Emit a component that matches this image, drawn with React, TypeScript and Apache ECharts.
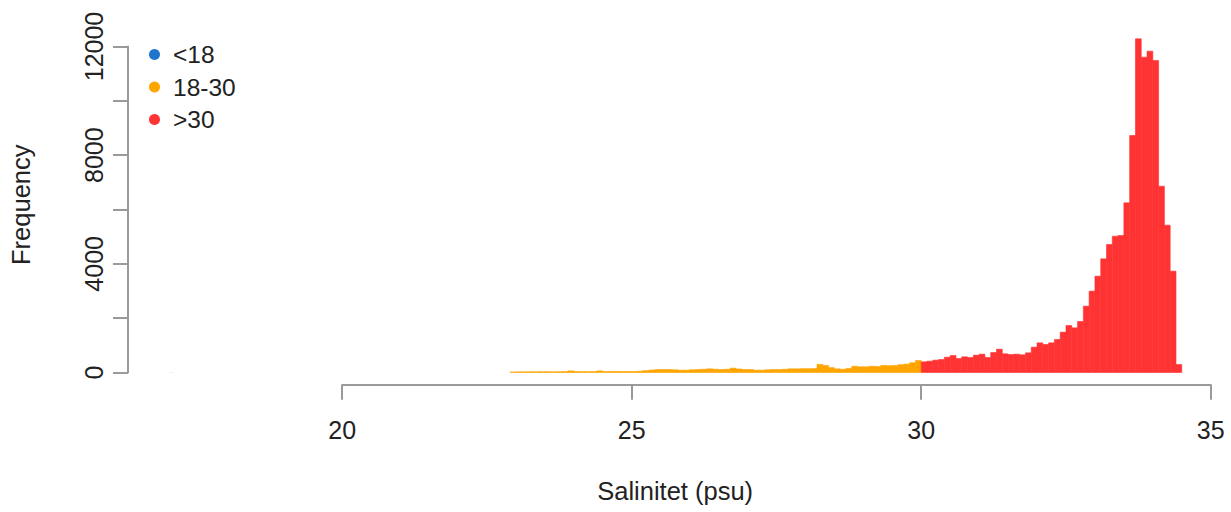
import React, { useEffect, useRef } from "react";
import * as echarts from "echarts";

// ---- data (histogram bins of width 0.1 psu) ----
const BIN_WIDTH = 0.1;

const blueStart = 17.0;
const blueCounts = [3];

const orangeStart = 22.9;
const orangeCounts = [
  20, 25, 25, 30, 25, 30, 30, 25, 30, 35, 60, 35, 30, 30, 35, 60, 35, 40, 40, 35, 35,
  37, 50, 70, 90, 110, 110, 110, 100, 86, 86, 100, 110, 120, 135, 120, 110, 120, 160, 130, 110,
  110, 86, 86, 100, 110, 110, 120, 135, 135, 140, 140, 145, 300, 260, 180, 135, 120, 150, 230, 210,
  210, 230, 220, 260, 250, 260, 290, 310, 360, 440,
];

const redStart = 30.0;
const redCounts = [
  393, 417, 454, 478, 564, 626, 515, 577, 552, 638, 675, 552, 736, 859, 687,
  662, 675, 650, 724, 932, 1092, 1031, 1092, 1215, 1485, 1730, 1644, 1877, 2442, 2994,
  3546, 4184, 4712, 5018, 5043, 6245, 8724, 12282, 11607, 11828, 11485, 6859, 5423, 3730, 294,
];

const seriesNames = ["<18", "18-30", ">30"];
const xTickMin = 20;
const xTickMax = 35;
const xTickStep = 5;
const yTickMax = 12000;
const yTickStep = 2000;
const yLabelValues = [0, 4000, 8000, 12000];

const BLUE = "#1f74cc";
const ORANGE = "#ffa500";
const RED = "#ff3333";
const AXIS = "#9a9a9a";
const TEXT = "#222222";
const FONT = '"Liberation Sans", Arial, Helvetica, sans-serif';

function toBins(start: number, counts: number[]) {
  return counts.map((c, i) => {
    const x0 = Math.round(start * 10 + i) / 10;
    const x1 = Math.round(start * 10 + i + BIN_WIDTH * 10) / 10;
    return [x0, x1, c];
  });
}

// ---- layout ----
const PX_PER_PSU = 57.9;
const X_MIN = 16.3;
const X_MAX = 35.2;
const Y_MIN = -450;
const Y_MAX = 12800;
const Y0_PX = 372.5;
const Y12K_PX = 46.5;
const PX_PER_UNIT = (Y0_PX - Y12K_PX) / 12000;
const GRID_LEFT = 128;

export default function App() {
  const ref = useRef<HTMLDivElement>(null);

  useEffect(() => {
    if (!ref.current) return;
    const chart = echarts.init(ref.current, undefined, { renderer: "svg" });

    const dataTop = Y12K_PX - (Y_MAX - 12000) * PX_PER_UNIT;
    const dataBottom = Y0_PX - Y_MIN * PX_PER_UNIT;
    const dataWidth = (X_MAX - X_MIN) * PX_PER_PSU;
    const xAxisLeft = GRID_LEFT + (xTickMin - X_MIN) * PX_PER_PSU;
    const xAxisWidth = (xTickMax - xTickMin) * PX_PER_PSU;

    const makeRenderItem = (strokeWidth: number) => (params: any, api: any) => {
      const x0 = api.value(0);
      const x1 = api.value(1);
      const y = api.value(2);
      const p0 = api.coord([x0, y]);
      const p1 = api.coord([x1, 0]);
      const color = api.visual("color");
      return {
        type: "rect",
        shape: { x: p0[0], y: p0[1], width: p1[0] - p0[0], height: p1[1] - p0[1] },
        style: { fill: color, stroke: strokeWidth > 0 ? color : null, lineWidth: strokeWidth },
      };
    };

    const hidden = {
      axisLine: { show: false },
      axisTick: { show: false },
      axisLabel: { show: false },
      splitLine: { show: false },
    };

    const option: any = {
      animation: false,
      textStyle: { fontFamily: FONT },
      grid: [
        { left: GRID_LEFT, top: dataTop, width: dataWidth, height: dataBottom - dataTop },
        { left: xAxisLeft, top: dataBottom - 10, width: xAxisWidth, height: 10 },
        { left: GRID_LEFT, top: Y12K_PX, width: 100, height: Y0_PX - Y12K_PX },
      ],
      xAxis: [
        {
          gridIndex: 0,
          type: "value",
          min: X_MIN,
          max: X_MAX,
          ...hidden,
          name: "Salinitet (psu)",
          nameLocation: "middle",
          nameGap: 93,
          nameTextStyle: { fontSize: 25.5, color: TEXT, fontFamily: FONT },
        },
        {
          gridIndex: 1,
          type: "value",
          min: xTickMin,
          max: xTickMax,
          interval: xTickStep,
          axisLine: { show: true, lineStyle: { color: AXIS, width: 2 } },
          axisTick: { show: true, length: 15, lineStyle: { color: AXIS, width: 2 } },
          axisLabel: { fontSize: 25, color: TEXT, margin: 33, fontFamily: FONT },
          splitLine: { show: false },
        },
        { gridIndex: 2, type: "value", show: false },
      ],
      yAxis: [
        {
          gridIndex: 0,
          type: "value",
          min: Y_MIN,
          max: Y_MAX,
          ...hidden,
          name: "Frequency",
          nameLocation: "middle",
          nameGap: 94,
          nameTextStyle: { fontSize: 25.5, color: TEXT, fontFamily: FONT },
        },
        { gridIndex: 1, type: "value", show: false },
        {
          gridIndex: 2,
          type: "value",
          min: 0,
          max: yTickMax,
          interval: yTickStep,
          axisLine: { show: true, lineStyle: { color: AXIS, width: 2 } },
          axisTick: { show: true, length: 15, lineStyle: { color: AXIS, width: 2 } },
          axisLabel: {
            fontSize: 25,
            color: TEXT,
            rotate: 90,
            margin: 22,
            fontFamily: FONT,
            formatter: (v: number) => (yLabelValues.indexOf(v) >= 0 ? String(v) : ""),
          },
          splitLine: { show: false },
        },
      ],
      legend: {
        orient: "vertical",
        left: 144,
        top: 37,
        itemWidth: 11,
        itemHeight: 11,
        itemGap: 7.5,
        icon: "circle",
        textStyle: { fontSize: 24.5, color: TEXT, fontFamily: FONT, padding: [0, 0, 0, 8] },
        data: seriesNames,
      },
      series: [
        { type: "custom", name: seriesNames[0], xAxisIndex: 0, yAxisIndex: 0, itemStyle: { color: BLUE }, encode: { x: [0, 1], y: 2 }, renderItem: makeRenderItem(0), data: toBins(blueStart, blueCounts) },
        { type: "custom", name: seriesNames[1], xAxisIndex: 0, yAxisIndex: 0, itemStyle: { color: ORANGE }, encode: { x: [0, 1], y: 2 }, renderItem: makeRenderItem(0.6), data: toBins(orangeStart, orangeCounts) },
        { type: "custom", name: seriesNames[2], xAxisIndex: 0, yAxisIndex: 0, itemStyle: { color: RED }, encode: { x: [0, 1], y: 2 }, renderItem: makeRenderItem(0.6), data: toBins(redStart, redCounts) },
      ],
    };

    chart.setOption(option);
    return () => chart.dispose();
  }, []);

  return (
    <div
      ref={ref}
      style={{ position: "absolute", left: 0, top: 0, width: 1231, height: 512, background: "#fff" }}
    />
  );
}
